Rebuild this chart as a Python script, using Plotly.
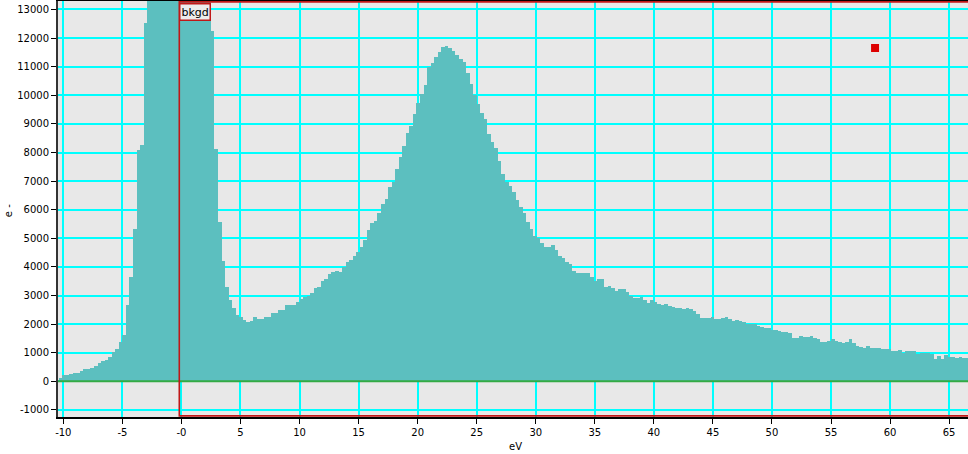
import plotly.graph_objects as go

# Histogram of electron counts (e-) vs energy loss (eV)
bin_start = -10.4   # left edge of first bin, eV
bin_width = 0.3     # eV

counts = [
    130, 210, 230, 255, 300, 280, 370, 420, 440, 480,
    535, 630, 700, 760, 860, 1010, 1120, 1385, 1620, 2670,
    3640, 5325, 8100, 8250, 12520,
    # zero-loss peak (clipped by the axis range)
    19000, 27000, 38000, 52000, 66000, 79000, 89000, 95000, 97000, 94000,
    86000, 74000, 60000, 46000, 34000, 25000, 19000, 15000,
    12260, 8120, 5565, 4200, 3290, 2835, 2555, 2310, 2240, 2135,
    2065, 2100, 2240, 2170, 2170, 2240, 2240, 2380, 2380, 2485,
    2485, 2660, 2660, 2660, 2765, 2870, 2958, 2993, 3088, 3252,
    3298, 3518, 3567, 3742, 3822, 3868, 3833, 4008, 4161, 4242,
    4393, 4533, 4708, 4941, 5291, 5525, 5606, 5875, 6190, 6375,
    6805, 6980, 7414, 7855, 8228, 8694, 8938, 9347, 9743, 10040,
    10362, 10990, 11121, 11331, 11505, 11680, 11727, 11645, 11563, 11411,
    11260, 11178, 10793, 10397, 10012, 9697, 9394, 9161, 8648, 8380,
    8147, 7704, 7238, 6981, 6841, 6609, 6340, 6107, 5897, 5560,
    5327, 5094, 5001, 4840, 4685, 4685, 4767, 4592, 4382, 4301,
    4172, 4102, 3868, 3798, 3798, 3798, 3798, 3637, 3518, 3567,
    3567, 3287, 3333, 3252, 3158, 3217, 3217, 3135, 2982, 2924,
    2924, 2936, 2843, 2749, 2843, 2784, 2703, 2668, 2691, 2650,
    2609, 2553, 2553, 2518, 2553, 2528, 2469, 2353, 2224, 2203,
    2203, 2238, 2179, 2179, 2203, 2238, 2179, 2120, 2144, 2109,
    2074, 2004, 2004, 2004, 1950, 1888, 1853, 1853, 1783, 1806,
    1771, 1713, 1713, 1678, 1503, 1503, 1585, 1562, 1562, 1597,
    1527, 1469, 1387, 1387, 1410, 1492, 1422, 1364, 1329, 1364,
    1469, 1352, 1236, 1213, 1166, 1236, 1154, 1154, 1154, 1119,
    1119, 1119, 1049, 1049, 1084, 1002, 1049, 1049, 1049, 956,
    991, 991, 991, 944, 792, 886, 792, 921, 851, 851,
    827, 851, 827, 827,
]

x_ticks = [-10, -5, 0, 5, 10, 15, 20, 25, 30, 35, 40, 45, 50, 55, 60, 65]
x_tick_text = ["-10", "-5", "-0", "5", "10", "15", "20", "25", "30", "35",
               "40", "45", "50", "55", "60", "65"]
y_ticks = [-1000, 0, 1000, 2000, 3000, 4000, 5000, 6000, 7000, 8000,
           9000, 10000, 11000, 12000, 13000]
y_tick_text = ["-1000", "0", "1000", "2000", "3000", "4000", "5000", "6000",
               "7000", "8000", "9000", "10000", "11000", "12000", "13000"]

bkgd_start = -0.18          # start of background window, eV
marker_x = [58.73]          # red marker position
marker_y = [11654]

x_range = [-10.45, 66.6]
y_range = [-1248, 13297]

centers = [bin_start + bin_width * (i + 0.5) for i in range(len(counts))]

FONT = "DejaVu Sans"
GRID = "#00ffff"
RED = "#c01818"

fig = go.Figure()
fig.add_trace(go.Bar(
    x=centers, y=counts, width=bin_width,
    marker=dict(color="#5cbfbf", line=dict(width=0)),
    hoverinfo="x+y", showlegend=False,
))
fig.add_trace(go.Scatter(
    x=marker_x, y=marker_y, mode="markers",
    marker=dict(symbol="square", size=8, color="#dd0000"),
    showlegend=False, cliponaxis=False,
))

fig.update_layout(
    width=968, height=454,
    margin=dict(l=58, r=0, t=1, b=37, autoexpand=False),
    paper_bgcolor="white", plot_bgcolor="#e8e8e8",
    bargap=0,
    font=dict(family=FONT, size=10, color="black"),
    xaxis=dict(
        range=x_range, tickmode="array", tickvals=x_ticks, ticktext=x_tick_text,
        showgrid=True, gridcolor=GRID, gridwidth=2,
        zeroline=False, showline=True, linecolor="black", linewidth=2, mirror=True,
        ticks="outside", ticklen=5, tickcolor="black", tickwidth=1,
        tickfont=dict(family=FONT, size=10, color="black"),
        automargin=False,
    ),
    yaxis=dict(
        range=y_range, tickmode="array", tickvals=y_ticks, ticktext=y_tick_text,
        showgrid=True, gridcolor=GRID, gridwidth=2,
        zeroline=False, showline=True, linecolor="#333333", linewidth=2,
        ticks="outside", ticklen=5, tickcolor="black", tickwidth=1,
        tickfont=dict(family=FONT, size=10, color="black"),
        automargin=False,
    ),
    shapes=[
        # zero line
        dict(type="line", xref="paper", x0=0, x1=1, yref="y", y0=0, y1=0,
             line=dict(color="#33aa44", width=2), layer="above"),
        # background window
        dict(type="rect", xref="x", x0=bkgd_start, x1=68, yref="y",
             y0=y_range[0] + 40, y1=y_range[1] - 30,
             line=dict(color=RED, width=1.6), fillcolor="rgba(0,0,0,0)",
             layer="above"),
    ],
    annotations=[
        dict(text="bkgd", xref="x", x=bkgd_start, xanchor="left",
             yref="paper", y=0.995, yanchor="top", showarrow=False,
             font=dict(family=FONT, size=11, color="black"),
             bgcolor="#ececec", bordercolor=RED, borderwidth=1.5, borderpad=1),
        dict(text="eV", xref="paper", x=0.503, yref="paper", y=-0.072,
             xanchor="center", yanchor="middle", showarrow=False,
             font=dict(family=FONT, size=10, color="black")),
        dict(text="e -", xref="paper", x=-0.055, yref="paper", y=0.497,
             xanchor="center", yanchor="middle", textangle=-90, showarrow=False,
             font=dict(family=FONT, size=10, color="black")),
    ],
)

fig.write_html(
    "out.html",
    config={"displayModeBar": False},
    post_script="document.body.style.margin='0px';document.body.style.padding='0px';",
)
